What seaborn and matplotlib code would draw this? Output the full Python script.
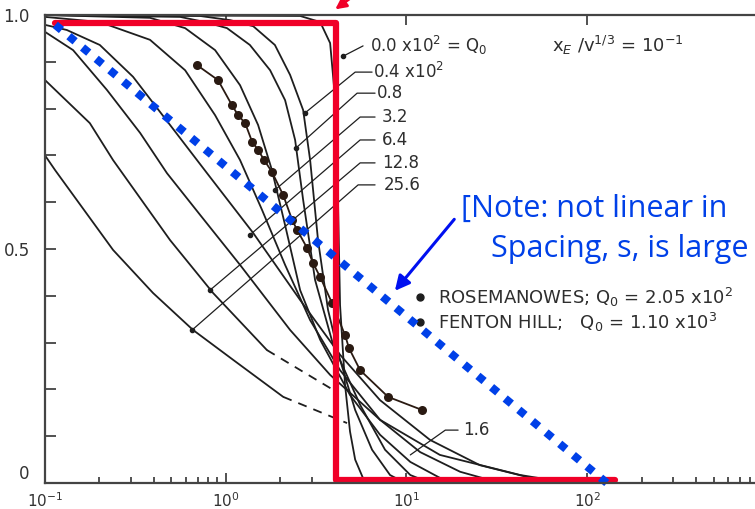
import numpy as np
import pandas as pd
import seaborn as sns
import matplotlib.pyplot as plt

# ---------------------------------------
# Curvas (x en escala log, y normalizada)
# ---------------------------------------
c0_x = [0.1, 2.58, 3.33, 3.78, 4.03, 4.18, 4.29, 4.57, 4.87, 5.20, 5.90]
c0_y = [1.0, 0.998, 0.985, 0.94, 0.82, 0.60, 0.38, 0.21, 0.11, 0.05, 0.0]

c1_x = [0.1, 0.72, 1.06, 1.42, 1.87, 2.27, 2.68, 2.93, 3.24, 3.68, 4.29, 5.2, 6.45, 8.11, 9.82]
c1_y = [1.0, 0.998, 0.989, 0.976, 0.936, 0.872, 0.797, 0.690, 0.519, 0.370, 0.263, 0.156, 0.071, 0.017, 0.0]

c2_x = [0.1, 0.559, 0.767, 1.016, 1.36, 1.76, 2.13, 2.42, 2.68, 3.12, 3.93, 5.54, 7.61, 10.5, 13.5]
c2_y = [1.0, 0.996, 0.985, 0.972, 0.936, 0.882, 0.818, 0.733, 0.605, 0.434, 0.295, 0.167, 0.071, 0.017, 0.0]

c3_x = [0.1, 0.381, 0.596, 0.873, 1.20, 1.51, 1.80, 2.13, 2.58, 3.33, 4.87, 7.14, 10.5, 15.3, 19.8]
c3_y = [1.0, 0.994, 0.972, 0.925, 0.850, 0.765, 0.669, 0.551, 0.412, 0.306, 0.188, 0.103, 0.045, 0.011, 0.0]

c4_x = [0.1, 0.201, 0.381, 0.596, 0.873, 1.20, 1.59, 2.13, 2.93, 4.29, 7.14, 11.9, 19.8, 33.0]
c4_y = [0.996, 0.985, 0.947, 0.882, 0.786, 0.690, 0.583, 0.466, 0.348, 0.241, 0.135, 0.066, 0.024, 0.0]

c5_x = [0.1, 0.132, 0.201, 0.307, 0.492, 0.788, 1.42, 2.58, 4.29, 7.14, 13.5, 25.5, 54.8, 91.4]
c5_y = [0.979, 0.968, 0.936, 0.868, 0.765, 0.662, 0.534, 0.391, 0.274, 0.177, 0.092, 0.038, 0.006, 0.0]

c6_x = [0.1, 0.143, 0.220, 0.336, 0.473, 0.721, 1.20, 2.27, 3.78, 7.14, 15.3, 42.6, 80.0]
c6_y = [0.964, 0.925, 0.840, 0.748, 0.662, 0.573, 0.466, 0.327, 0.231, 0.135, 0.060, 0.017, 0.0]

c7_x = [0.1, 0.177, 0.238, 0.492, 0.851, 1.69]
c7_y = [0.861, 0.769, 0.690, 0.519, 0.406, 0.284]
c7_dash_x = [1.69, 3.93]
c7_dash_y = [0.284, 0.199]

c8_x = [0.1, 0.114, 0.238, 0.396, 0.659, 1.10, 2.08]
c8_y = [0.70, 0.668, 0.498, 0.406, 0.327, 0.263, 0.184]
c8_dash_x = [2.08, 4.69]
c8_dash_y = [0.184, 0.128]

# datos de campo (Rosemanowes / Fenton Hill)
campo_x = [0.693, 0.906, 1.08, 1.17, 1.28, 1.40, 1.51, 1.63, 1.80, 2.08, 2.33, 2.48,
           2.82, 3.04, 3.33, 3.87, 4.57, 4.81, 5.54, 7.91, 12.2]
campo_y = [0.893, 0.861, 0.808, 0.786, 0.769, 0.729, 0.712, 0.690, 0.665, 0.615, 0.562, 0.541,
           0.502, 0.470, 0.440, 0.385, 0.316, 0.288, 0.241, 0.184, 0.156]

etiquetas = ["0.0 x10$^2$ = Q$_0$", "0.4 x10$^2$", "0.8", "3.2", "6.4", "12.8", "25.6"]
etiq_x = [6.3, 6.5, 6.9, 7.3, 7.3, 7.3, 7.5]
etiq_y = [0.934, 0.878, 0.833, 0.782, 0.733, 0.684, 0.637]
# líneas guía de etiquetas: (x, y) de cada tramo
guia_x = [[5.75, 4.46], [6.45, 5.20, 2.75], [6.70, 5.33, 2.45], [6.70, 5.54, 1.87],
          [6.70, 5.54, 1.36], [6.70, 5.54, 0.818], [6.70, 5.40, 0.652]]
guia_y = [[0.934, 0.912], [0.878, 0.878, 0.791], [0.833, 0.833, 0.716], [0.782, 0.782, 0.626],
          [0.733, 0.733, 0.530], [0.684, 0.684, 0.412], [0.637, 0.637, 0.327]]

# ---------------------------------------
# Figura
# ---------------------------------------
sns.set_style("ticks")
plt.rcParams['font.family'] = ['DejaVu Sans']
plt.rcParams['xtick.direction'] = 'in'
plt.rcParams['ytick.direction'] = 'in'

fig = plt.figure(figsize=(7.55, 5.09), dpi=100)
ax = fig.add_axes([0.0596, 0.0511, 0.9576, 0.9194])

negro = '#1e1e1e'
gris_txt = '#2e2e2e'
curvas = [(c0_x, c0_y), (c1_x, c1_y), (c2_x, c2_y), (c3_x, c3_y), (c4_x, c4_y),
          (c5_x, c5_y), (c6_x, c6_y), (c7_x, c7_y), (c8_x, c8_y)]
for cx, cy in curvas:
    sns.lineplot(x=cx, y=cy, ax=ax, color=negro, lw=1.3, estimator=None, sort=False)
for cx, cy in [(c7_dash_x, c7_dash_y), (c8_dash_x, c8_dash_y)]:
    sns.lineplot(x=cx, y=cy, ax=ax, color=negro, lw=1.3, estimator=None, sort=False,
                 linestyle=(0, (5, 4)))

sns.lineplot(x=campo_x, y=campo_y, ax=ax, color='#2a1a12', lw=1.3, estimator=None,
             sort=False, marker='o', markersize=6.5, markeredgewidth=0)

for gx, gy in zip(guia_x, guia_y):
    ax.plot(gx, gy, color=negro, lw=0.9)
    ax.plot(gx[-1], gy[-1], marker='o', ms=3, color=negro)
for txt, tx, ty in zip(etiquetas, etiq_x, etiq_y):
    ax.text(tx, ty, txt, fontsize=12, color=gris_txt, va='center', ha='left')

ax.plot([19.3, 16.4, 10.5], [0.113, 0.113, 0.060], color=negro, lw=0.9)
ax.text(20.6, 0.113, "1.6", fontsize=12, color=gris_txt, va='center')

ax.text(64.0, 0.936, "x$_E$ /v$^{1/3}$ = 10$^{-1}$", fontsize=13, color=gris_txt, va='center')
ax.plot([11.9, 11.9], [0.397, 0.344], 'o', color=negro, ms=5)
ax.text(15.0, 0.397, "ROSEMANOWES; Q$_0$ = 2.05 x10$^2$", fontsize=13, color=gris_txt, va='center')
ax.text(15.0, 0.344, "FENTON HILL;   Q$_0$ = 1.10 x10$^3$", fontsize=13, color=gris_txt, va='center')

# anotaciones en rojo y azul
ax.plot([0.114, 4.07, 4.07, 142], [0.983, 0.983, 0.006, 0.006], color='#F00028', lw=4.5,
        solid_joinstyle='round', clip_on=False)
ax.plot([0.114, 137], [0.979, -0.009], color='#0040E8', lw=5.8, linestyle=(0, (1, 1.2)),
        dash_capstyle='butt', clip_on=False)
ax.annotate("", xy=(8.43, 0.406), xytext=(18.8, 0.568),
            arrowprops=dict(arrowstyle='-|>', color='#0010F0', lw=2.2, mutation_scale=22))
ax.annotate("", xy=(333, 498), xycoords='figure pixels', xytext=(352, 512),
            textcoords='figure pixels',
            arrowprops=dict(arrowstyle='-|>', color='#F00028', lw=2, mutation_scale=16))
nota = dict(fontsize=22, color='#0040E8', family=['Open Sans', 'DejaVu Sans'])
ax.text(19.9, 0.568, "[Note: not linear in", va='baseline', **nota)
ax.text(29.5, 0.483, "Spacing, s, is large", va='baseline', **nota)

# ejes
ax.set_xscale('log')
ax.set_xlim(0.1, 1000)
ax.set_ylim(0, 1.0)
ax.set_yticks(np.arange(0, 1.01, 0.1))
ax.set_yticklabels(['0', '', '', '', '', '0.5', '', '', '', '', '1.0'])
ax.tick_params(axis='both', which='both', colors='#333333', labelsize=12,
               top=True, right=True, width=1.2)
ax.tick_params(axis='y', length=8, pad=11)
ax.tick_params(axis='x', which='major', length=7, pad=6, labelsize=11)
ax.tick_params(axis='x', which='minor', length=4, top=False)
for s in ax.spines.values():
    s.set_color('#444444')
    s.set_linewidth(1.6)
ax.get_yticklabels()[0].set_va('bottom')
ax.set_xlabel('')
ax.set_ylabel('')

fig.savefig('out.png', dpi=100)
